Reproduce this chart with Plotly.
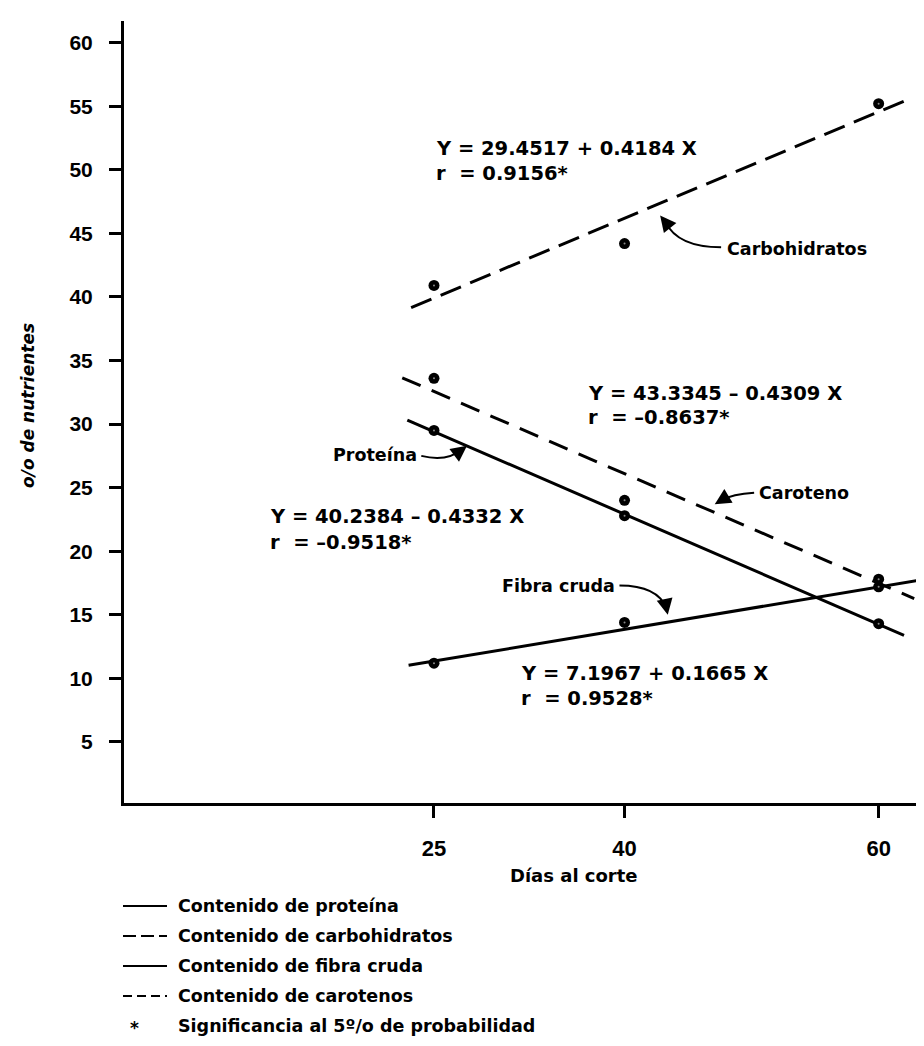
import plotly.graph_objects as go

# ---------------- data ----------------
days = [25, 40, 60]
series_names = ["Carbohidratos", "Caroteno", "Proteína", "Fibra cruda"]
carbohidratos = [40.9, 44.2, 55.2]
caroteno = [33.6, 24.0, 17.8]
proteina = [29.5, 22.8, 14.3]
fibra = [11.2, 14.4, 17.2]
intercepts = [29.4517, 43.3345, 40.2384, 7.1967]
slopes = [0.4184, -0.4309, -0.4332, 0.1665]
r_values = ["0.9156*", "–0.8637*", "–0.9518*", "0.9528*"]
line_x_start = [23.2, 22.5, 22.9, 23.0]
line_x_end = [62.5, 62.8, 62.0, 63.2]
y_ticks = [5, 10, 15, 20, 25, 30, 35, 40, 45, 50, 55, 60]
x_ticks = [25, 40, 60]

values = [carbohidratos, caroteno, proteina, fibra]
dashes = ["22px,10px", "20px,12px", "solid", "solid"]

W, H = 924, 1046
ML, MR, MT, MB = 116, 0, 13, 251
PW, PH = W - ML - MR, H - MT - MB
TICKFONT = "Liberation Sans"
TXTFONT = "DejaVu Sans"


def px2paper(px, py):
    return (px - ML) / PW, (H - MB - py) / PH


fig = go.Figure()

for i in range(4):
    xs = [line_x_start[i], line_x_end[i]]
    ys = [intercepts[i] + slopes[i] * x for x in xs]
    fig.add_trace(go.Scatter(x=xs, y=ys, mode="lines",
                             line=dict(color="black", width=3, dash=dashes[i]),
                             showlegend=False, hoverinfo="skip"))

for i in range(4):
    fig.add_trace(go.Scatter(x=days, y=values[i], mode="markers",
                             marker=dict(symbol="circle", size=11, color="black",
                                         line=dict(width=0)),
                             showlegend=False, name=series_names[i]))
    fig.add_trace(go.Scatter(x=days, y=values[i], mode="markers",
                             marker=dict(symbol="circle", size=2, color="#888888",
                                         line=dict(width=0)),
                             showlegend=False, hoverinfo="skip"))

annotations = []


def txt(x, y, text, size=20, xanchor="left", xref="x", yref="y", family=TXTFONT, **kw):
    annotations.append(dict(x=x, y=y, xref=xref, yref=yref, text=text,
                            showarrow=False, xanchor=xanchor, yanchor="middle",
                            font=dict(family=family, size=size, color="black", weight="bold"),
                            **kw))


NB = "\u00a0"
# equations
eq_pos = [(25.0, 51.7, 49.7), (37.0, 32.4, 30.5), (11.9, 22.7, 20.7), (31.7, 10.4, 8.4)]
for i in range(4):
    sign = "+" if slopes[i] > 0 else "–"
    eq = f"Y = {intercepts[i]:.4f} {sign}{NB}{abs(slopes[i]):.4f} X"
    x0, y1, y2 = eq_pos[i]
    txt(x0, y1, eq, size=19.5)
    txt(x0, y2, f"r{NB}{NB}= {r_values[i]}", size=19.5)

# series labels
txt(47.9, 43.8, "Carbohidratos", size=17.5)
txt(50.4, 24.6, "Caroteno", size=17.5)
txt(23.8, 27.6, "Proteína", size=17.5, xanchor="right")
txt(30.2, 17.3, "Fibra cruda", size=17.5)

shapes = []
# curved leader lines + arrowheads
curves = [
    ((47.6, 43.9), (44.2, 43.9), (43.2, 45.9), (42.8, 46.4)),
    ((24.0, 27.5), (26.0, 27.0), (27.2, 28.0), (27.6, 28.3)),
    ((39.6, 17.3), (42.6, 17.3), (43.3, 15.5), (43.4, 15.0)),
    ((50.2, 24.6), (48.5, 24.5), (47.6, 24.0), (47.1, 23.7)),
]
for (p0, c, p1, head) in curves:
    shapes.append(dict(type="path", xref="x", yref="y",
                       path=f"M {p0[0]},{p0[1]} Q {c[0]},{c[1]} {p1[0]},{p1[1]}",
                       line=dict(color="black", width=2)))
    annotations.append(dict(x=head[0], y=head[1], ax=p1[0], ay=p1[1],
                            xref="x", yref="y", axref="x", ayref="y",
                            text="", showarrow=True, arrowhead=2, arrowsize=1.6,
                            arrowwidth=2, arrowcolor="black"))

# axis titles
tx, ty = px2paper(566, 867)
txt(tx, ty, "Días al corte", size=18, xanchor="center", xref="paper", yref="paper")
ax_, ay_ = px2paper(20, 398)
annotations.append(dict(x=ax_, y=ay_, xref="paper", yref="paper", text="o/o de nutrientes",
                        showarrow=False, textangle=-90, xanchor="center", yanchor="middle",
                        font=dict(family=TXTFONT, size=17, color="black", weight="bold",
                                  style="italic")))

# legend (drawn manually)
legend_items = ["Contenido de proteína", "Contenido de carbohidratos",
                "Contenido de fibra cruda", "Contenido de carotenos",
                "Significancia al 5º/o de probabilidad"]
legend_dash = ["solid", "13px,5px", "solid", "9px,5px", None]
legend_rows = [898, 928, 958, 988, 1018]
for item, dsh, py in zip(legend_items, legend_dash, legend_rows):
    xa, ya = px2paper(115, py)
    xb, _ = px2paper(159, py)
    if dsh is not None:
        shapes.append(dict(type="line", xref="paper", yref="paper", x0=xa, x1=xb, y0=ya, y1=ya,
                           line=dict(color="black", width=2, dash=dsh)))
    else:
        xs_, ys_ = px2paper(126, py + 2)
        txt(xs_, ys_, "*", size=17, xanchor="center", xref="paper", yref="paper")
    xt, yt = px2paper(168, py)
    txt(xt, yt, item, size=17.5, xref="paper", yref="paper")

fig.update_layout(
    width=W, height=H,
    margin=dict(l=ML, r=MR, t=MT, b=MB),
    paper_bgcolor="white", plot_bgcolor="white",
    showlegend=False,
    annotations=annotations, shapes=shapes,
    font=dict(family=TICKFONT, color="black"),
    xaxis=dict(range=[0.6, 64.2], showgrid=False, zeroline=False, showline=True,
               linecolor="black", linewidth=3, ticks="outside", ticklen=12, tickwidth=3,
               tickcolor="black", tickvals=x_ticks, ticktext=[str(v) for v in x_ticks],
               tickfont=dict(family=TICKFONT, size=22, color="black", weight="bold"),
               ticklabelstandoff=12),
    yaxis=dict(range=[0.2, 61.7], showgrid=False, zeroline=False, showline=True,
               linecolor="black", linewidth=3, ticks="outside", ticklen=12, tickwidth=2.5,
               tickcolor="black", tickvals=y_ticks,
               tickfont=dict(family=TICKFONT, size=21, color="black", weight="bold"),
               ticklabelstandoff=12),
)

fig.write_html("out.html")
